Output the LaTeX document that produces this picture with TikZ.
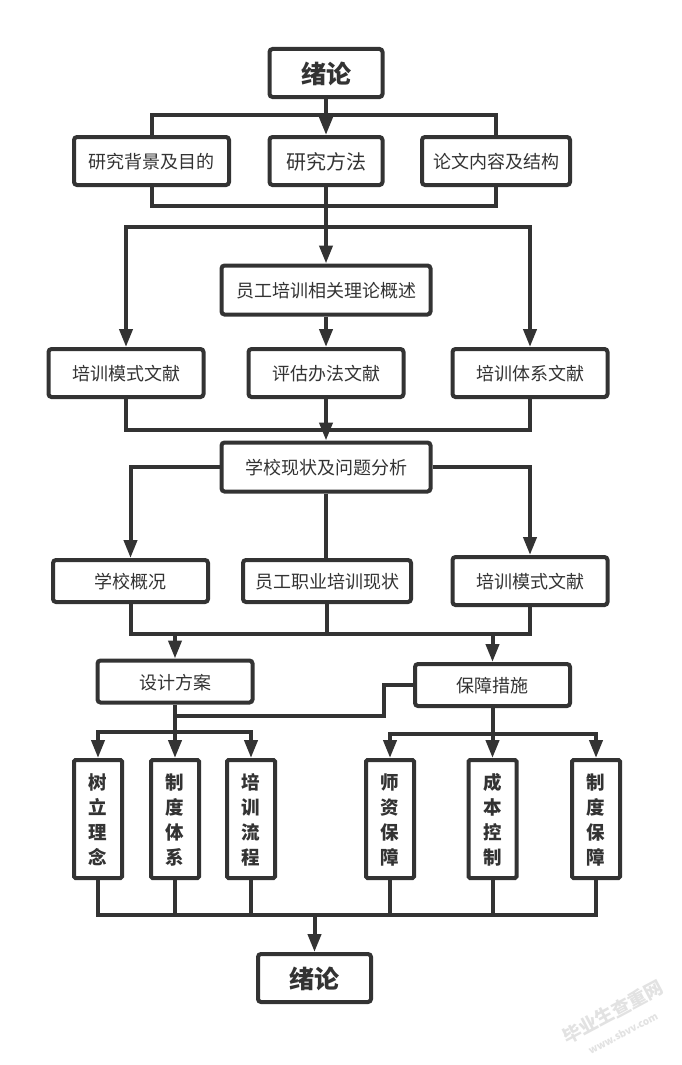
\documentclass[tikz,border=0pt]{standalone}
\usepackage{fontspec}
\setmainfont{Noto Sans CJK SC}
\usetikzlibrary{arrows.meta}
\definecolor{inkgray}{HTML}{333333}
\definecolor{markgray}{HTML}{E2E2E2}
\begin{document}
\begin{tikzpicture}[x=1pt,y=-1pt]
        \tikzstyle{every node}+=[inner sep=0pt]
        \tikzstyle{box}=[draw=inkgray,line width=4pt,rounded corners=3pt,fill=white,text=inkgray,text depth=0pt,font=\fontsize{18}{25}\selectfont,align=center]
        \tikzstyle{titlebox}=[box,minimum width=113pt,minimum height=48pt,font=\fontsize{25}{30}\selectfont\bfseries]
        \tikzstyle{midbox}=[box,minimum width=113pt,minimum height=48pt,font=\fontsize{20}{25}\selectfont]
        \tikzstyle{textbox}=[box,minimum width=155pt,minimum height=48pt]
        \tikzstyle{longbox}=[box,minimum width=209pt,minimum height=49pt]
        \tikzstyle{lowbox}=[box,minimum width=155pt,minimum height=42pt]
        \tikzstyle{tallbox}=[box,rounded corners=1.5pt,minimum width=48pt,minimum height=118pt,font=\fontsize{18.5}{25}\selectfont\bfseries]
        \tikzstyle{line}=[draw=inkgray,line width=4pt,line join=miter]
        \tikzstyle{arrow}=[line,-{Triangle[length=18pt,width=13pt]}]
        \useasboundingbox (0,0) rectangle (682,1065);
        \fill [white] (0,0) rectangle (682,1065);
        \coordinate (busa) at (326,115);
        \coordinate (busb) at (326,206);
        \coordinate (busc) at (326,227);
        \coordinate (busd) at (326,430);
        \coordinate (buse) at (326,634);
        \coordinate (busf) at (175,732);
        \coordinate (busg) at (492.5,734);
        \coordinate (bush) at (175,716);
        \coordinate (busi) at (384,685);
        \coordinate (busj) at (314.5,915);
        \node [titlebox] (lunA) at (326,73) {绪论};
        \node [textbox] (bg) at (151.5,161) {研究背景及目的};
        \node [midbox] (ff) at (326,161) {研究方法};
        \node [box,minimum width=148pt,minimum height=48pt] (nr) at (496,161) {论文内容及结构};
        \node [longbox] (yg) at (326,290) {员工培训相关理论概述};
        \node [textbox] (msA) at (126,373) {培训模式文献};
        \node [textbox] (pg) at (326,373) {评估办法文献};
        \node [textbox] (tx) at (530,373) {培训体系文献};
        \node [longbox] (xx) at (326,467) {学校现状及问题分析};
        \node [lowbox] (gk) at (130.5,581) {学校概况};
        \node [box,minimum width=168pt,minimum height=42pt] (zy) at (327,581) {员工职业培训现状};
        \node [textbox] (msB) at (530,581) {培训模式文献};
        \node [lowbox] (sj) at (175,681.5) {设计方案};
        \node [lowbox] (bz) at (492.5,685) {保障措施};
        \node [tallbox] (sl) at (98,819) {树\\立\\理\\念};
        \node [tallbox] (zd) at (175,819) {制\\度\\体\\系};
        \node [tallbox] (pl) at (251,819) {培\\训\\流\\程};
        \node [tallbox] (sz) at (390,819) {师\\资\\保\\障};
        \node [tallbox] (cb) at (492.5,819) {成\\本\\控\\制};
        \node [tallbox] (zb) at (596,819) {制\\度\\保\\障};
        \node [titlebox] (lunB) at (314.5,978) {绪论};
        \draw [line] (bg.north) |- (busa) -| (nr.north);
        \draw [arrow] (lunA) -- (ff);
        \draw [line] (bg.south) |- (busb) -| (nr.south);
        \draw [arrow] (ff) -- (yg);
        \draw [arrow] (busc) -| (msA.north);
        \draw [arrow] (busc) -| (tx.north);
        \draw [arrow] (yg) -- (pg);
        \draw [line] (msA.south) |- (busd) -| (tx.south);
        \draw [arrow] (pg) -- (xx);
        \draw [arrow] (xx.west) -| (gk.north);
        \draw [arrow] (xx.east) -| (msB.north);
        \draw [line] (xx.south) -- (xx.south |- zy.north);
        \draw [line] (gk.south) |- (buse) -| (msB.south);
        \draw [line] (zy.south) -- (zy.south |- buse);
        \draw [arrow] (sj.north |- buse) -- (sj.north);
        \draw [arrow] (bz.north |- buse) -- (bz.north);
        \draw [arrow] (sj) -- (zd);
        \draw [arrow] (busf) -| (sl.north);
        \draw [arrow] (busf) -| (pl.north);
        \draw [line] (bz.west) -| (busi |- bush) -- (bush);
        \draw [arrow] (bz) -- (cb);
        \draw [arrow] (busg) -| (sz.north);
        \draw [arrow] (busg) -| (zb.north);
        \draw [line] (sl.south) |- (busj) -| (zb.south);
        \draw [line] (zd.south) -- (zd.south |- busj);
        \draw [line] (pl.south) -- (pl.south |- busj);
        \draw [line] (sz.south) -- (sz.south |- busj);
        \draw [line] (cb.south) -- (cb.south |- busj);
        \draw [arrow] (busj) -- (lunB);
        \node [text=markgray,rotate=28,font=\fontsize{18.5}{20}\selectfont\bfseries] (markA) at (613,1012) {毕业生查重网};
        \node [text=markgray,rotate=28,font=\fontsize{10}{12}\selectfont\bfseries] (markB) at (623,1033) {www.sbvv.com};
\end{tikzpicture}
\end{document}
